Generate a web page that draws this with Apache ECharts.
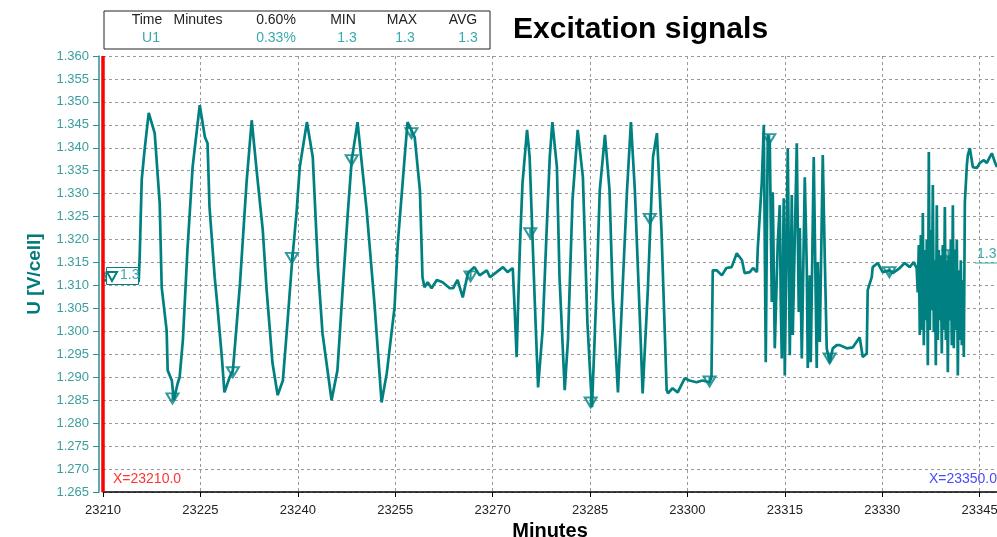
<!DOCTYPE html>
<html>
<head>
<meta charset="utf-8">
<script src="https://cdn.jsdelivr.net/npm/echarts@6/dist/echarts.min.js"></script>
<style>
html,body{margin:0;padding:0;background:#fff;}
#chart{width:997px;height:537px;}
</style>
</head>
<body>
<div id="chart"></div>
<script>
// ---- data ----
const minutes = [
23210.1,23211.8,23213.8,23215.5,23215.65,23215.96,23216.4,23217.04,23217.96,23218.73,
23219.04,23219.8,23219.96,23220.6,23220.9,23221.5,23221.8,23222.3,23223.0,23223.8,
23224.4,23224.9,23225.7,23226.1,23226.4,23227.2,23227.5,23228.3,23228.7,23229.5,
23230.0,23230.3,23231.1,23232.1,23232.9,23233.7,23234.6,23235.2,23236.1,23236.9,
23237.7,23238.4,23239.1,23239.8,23240.3,23241.4,23242.3,23243.1,23243.8,23245.2,
23246.1,23246.9,23247.7,23248.3,23249.2,23249.8,23250.6,23251.8,23252.9,23253.7,
23254.9,23255.4,23256.5,23256.9,23258.0,23258.8,23259.2,23259.5,23260.0,23260.6,
23261.4,23262.3,23263.4,23263.9,23264.6,23265.4,23266.2,23267.2,23268.0,23269.1,
23269.6,23270.6,23271.6,23272.3,23273.1,23273.4,23273.7,23273.9,23274.2,23274.6,
23275.3,23275.7,23276.5,23277.0,23277.7,23278.3,23278.8,23279.2,23279.9,23280.3,
23281.1,23281.6,23282.3,23283.1,23283.9,23284.6,23285.3,23286.0,23286.5,23287.3,
23288.0,23288.5,23289.3,23290.0,23290.7,23291.3,23291.9,23292.7,23293.1,23293.9,
23294.7,23295.3,23296.0,23296.8,23297.0,23297.7,23298.5,23299.6,23300.3,23301.4,
23302.3,23303.4,23303.7,23303.9,23304.5,23305.3,23306.0,23306.8,23307.6,23308.4,
23308.8,23309.6,23310.1,23310.7,
23310.83,23311.14,23311.45,23311.76,23312.06,23312.37,23312.68,23312.99,23313.14,23313.45,
23313.91,23314.22,23314.37,23314.53,23314.83,23314.99,23315.45,23315.76,23316.07,23316.22,
23316.84,23317.14,23317.30,23317.61,23318.07,23318.38,23318.53,23318.84,23318.99,23319.45,
23319.91,23320.07,23320.38,23320.84,23321.15,23321.45,23321.91,23322.38,23322.99,23323.45,
23324.53,23325.45,23326.53,23326.99,23327.61,23327.76,23328.38,23328.53,23329.30,23330.07,
23331.15,23331.61,23332.69,23333.46,23334.23,23334.84,23335.30,23335.46,
23335.63,23335.78,23335.94,23336.09,23336.25,23336.40,23336.55,23336.71,23336.86,23337.02,
23337.17,23337.33,23337.48,23337.63,23337.79,23337.94,23338.10,23338.25,23338.40,23338.56,
23338.71,23338.87,23339.02,23339.17,23339.33,23339.48,23339.64,23339.79,23339.94,23340.10,
23340.25,23340.41,23340.56,23340.71,23340.87,23341.02,23341.18,23341.33,23341.48,23341.64,
23341.79,23341.95,23342.10,23342.25,23342.41,23342.56,23342.72,23343.03,23343.18,23343.49,
23343.95,23344.57,23345.03,23345.65,23346.11,23346.57,23346.88,23347.34,23347.65
];
const volts = [
1.3112,1.3107,1.3105,1.3109,1.3162,1.3330,1.3395,1.3476,1.3432,1.3279,
1.3096,1.3002,1.2915,1.2893,1.2850,1.2887,1.2900,1.2981,1.3177,1.3358,
1.3432,1.3493,1.3423,1.3410,1.3271,1.3118,1.3074,1.2944,1.2867,1.2900,
1.2915,1.2965,1.3105,1.3323,1.3460,1.3345,1.3221,1.3090,1.2931,1.2861,
1.2893,1.3018,1.3149,1.3258,1.3358,1.3456,1.3380,1.3140,1.2996,1.2850,
1.2915,1.3090,1.3258,1.3373,1.3456,1.3373,1.3264,1.3061,1.2845,1.2909,
1.3053,1.3192,1.3388,1.3456,1.3423,1.3308,1.3118,1.3096,1.3107,1.3094,
1.3112,1.3107,1.3094,1.3094,1.3112,1.3074,1.3127,1.3140,1.3122,1.3133,
1.3118,1.3129,1.3140,1.3129,1.3138,1.3046,1.2944,1.3046,1.3184,1.3323,
1.3439,1.3380,1.3061,1.2878,1.3003,1.3214,1.3380,1.3456,1.3358,1.3118,
1.2872,1.2981,1.3286,1.3439,1.3336,1.3018,1.2835,1.3090,1.3308,1.3428,
1.3308,1.3074,1.2867,1.3090,1.3308,1.3456,1.3308,1.3018,1.2865,1.3090,
1.3380,1.3432,1.3221,1.2872,1.2865,1.2876,1.2867,1.2898,1.2893,1.2889,
1.2893,1.2889,1.2900,1.3133,1.3133,1.3122,1.3138,1.3140,1.3170,1.3155,
1.3127,1.3129,1.3138,1.3129,
1.3181,1.3253,1.3325,1.3450,1.2933,1.3428,1.3412,1.3064,1.3303,1.2963,
1.3194,1.3275,1.3064,1.2941,1.3290,1.2904,1.3399,1.2948,1.3297,1.2992,
1.3410,1.3042,1.3225,1.2941,1.3336,1.3138,1.2920,1.3122,1.2933,1.3380,
1.2920,1.3151,1.2977,1.3384,1.3160,1.2963,1.2931,1.2963,1.2970,1.2970,
1.2963,1.2965,1.2987,1.2944,1.2952,1.3090,1.3118,1.3140,1.3149,1.3129,
1.3133,1.3127,1.3138,1.3149,1.3140,1.3151,1.3138,1.3085,
1.3188,1.2992,1.3210,1.3003,1.3258,1.2970,1.3177,1.3024,1.3199,1.2926,
1.3391,1.3003,1.3221,1.3046,1.3319,1.2998,1.3155,1.2926,1.3275,1.2981,
1.3177,1.3024,1.3166,1.2952,1.3188,1.3003,1.3271,1.2981,1.3155,1.2911,
1.3166,1.3024,1.3199,1.2970,1.3275,1.2963,1.3177,1.3003,1.3199,1.2904,
1.3133,1.2981,1.3155,1.2970,1.3112,1.2944,1.3282,1.3362,1.3384,1.3399,
1.3358,1.3356,1.3367,1.3373,1.3367,1.3380,1.3388,1.3369,1.3358
];
const markerMinutes = [23211.0,23220.7,23230.0,23239.1,23248.3,23257.5,23266.6,23275.8,23285.1,23294.2,23303.4,23312.6,23321.9,23331.1,23340.2];
const markerVolts   = [1.3116,1.2854,1.2911,1.3160,1.3373,1.3432,1.3120,1.3214,1.2845,1.3245,1.2891,1.3419,1.2941,1.3129,1.3166];
const cursorLeft = 23210.0;
const cursorRight = 23350.0;
const xMin = 23210, xMax = 23347.67, xStep = 15;
const yMin = 1.265, yMax = 1.360, yStep = 0.005;
const legendHeader = ['Time', 'Minutes', '0.60%', 'MIN', 'MAX', 'AVG'];
const legendRow = ['U1', '', '0.33%', '1.3', '1.3', '1.3'];

// ---- chart ----
const TEAL = '#008080';
const LIGHT = '#3aa9a9';
const FONT = '"Liberation Sans", Arial, sans-serif';
const chart = echarts.init(document.getElementById('chart'), null, {renderer: 'canvas'});

const lineData = minutes.map((m, i) => [m, volts[i]]);
const markData = markerMinutes.map((m, i) => [m, markerVolts[i]]);

const hdrX = [147, 198, 276, 343, 402, 463];
const rowX = [151, 0, 276, 347, 405, 468];
const legendGraphics = [
  {type: 'rect', left: 103.5, top: 10.5, shape: {width: 386, height: 38}, style: {fill: '#fff', stroke: '#222', lineWidth: 1}}
];
legendHeader.forEach((t, i) => legendGraphics.push({type: 'text', x: hdrX[i], y: 20, style: {text: t, fill: '#222', font: '14px ' + FONT, textAlign: 'center', textVerticalAlign: 'middle'}}));
legendRow.forEach((t, i) => { if (t) legendGraphics.push({type: 'text', x: rowX[i], y: 38, style: {text: t, fill: LIGHT, font: '14px ' + FONT, textAlign: 'center', textVerticalAlign: 'middle'}}); });

const option = {
  animation: false,
  backgroundColor: '#fff',
  textStyle: {fontFamily: FONT},
  title: {
    text: 'Excitation signals', left: 508, top: 10,
    textStyle: {fontSize: 30, fontWeight: 'bold', color: '#000', fontFamily: FONT}
  },
  grid: {left: 103, right: 0, top: 56, bottom: 45, containLabel: false, outerBoundsMode: 'none'},
  xAxis: {
    type: 'value', min: xMin, max: xMax, interval: xStep,
    name: 'Minutes', nameLocation: 'middle', nameGap: 24,
    nameTextStyle: {fontSize: 20, fontWeight: 'bold', color: '#000', fontFamily: FONT},
    axisLine: {show: true, onZero: false, lineStyle: {color: '#000', width: 1.5}},
    axisTick: {show: true, length: 5, lineStyle: {color: '#000'}},
    axisLabel: {color: '#222', fontSize: 13, margin: 12, showMaxLabel: false, hideOverlap: false, formatter: v => String(Math.round(v))},
    splitLine: {show: true, lineStyle: {color: '#999', type: [3, 3], width: 1}}
  },
  yAxis: {
    type: 'value', min: yMin, max: yMax, interval: yStep, offset: 4,
    name: 'U [V/cell]', nameLocation: 'middle', nameGap: 55, nameRotate: 90,
    nameTextStyle: {fontSize: 19, fontWeight: 'bold', color: '#007a7a', fontFamily: FONT},
    axisLine: {show: true, lineStyle: {color: '#2a9090', width: 1.5}},
    axisTick: {show: true, length: 6, lineStyle: {color: '#2a9090'}},
    axisLabel: {color: '#3a9e9e', fontSize: 13, margin: 10, formatter: v => v.toFixed(3)},
    splitLine: {show: true, lineStyle: {color: '#999', type: [3, 3], width: 1}}
  },
  series: [
    {
      type: 'line', data: lineData, showSymbol: false, clip: false,
      lineStyle: {color: TEAL, width: 2.7}, itemStyle: {color: TEAL},
      markLine: {
        silent: true, symbol: 'none', label: {show: false},
        lineStyle: {color: '#ff0000', width: 3.5, type: 'solid'},
        data: [{xAxis: cursorLeft}]
      },
      z: 3
    },
    {
      type: 'scatter', data: markData,
      symbol: 'path://M0,0L20,0L10,18Z M10,0L10,18', symbolSize: [12, 10],
      itemStyle: {color: 'rgba(255,255,255,0)', borderColor: TEAL, borderWidth: 2},
      z: 4
    }
  ],
  graphic: legendGraphics.concat([
    {type: 'text', left: 113, top: 472, style: {text: 'X=' + cursorLeft.toFixed(1), fill: '#ff3333', font: '14px ' + FONT}},
    {type: 'text', right: 0, top: 472, style: {text: 'X=' + cursorRight.toFixed(1), fill: '#4a4aff', font: '14px ' + FONT}},
    {type: 'rect', left: 106, top: 267, shape: {width: 32, height: 17}, style: {fill: '#fff', stroke: TEAL, lineWidth: 1}, z: 10},
    {type: 'text', left: 120, top: 268, style: {text: '1.3', fill: LIGHT, font: '14px ' + FONT}, z: 11},
    {type: 'polygon', shape: {points: [[107, 272], [117, 272], [112, 281]]}, style: {fill: '#fff', stroke: TEAL, lineWidth: 2}, z: 11},
    {type: 'text', left: 977, top: 247, style: {text: '1.3', fill: LIGHT, font: '14px ' + FONT}, z: 11},
    {type: 'line', shape: {x1: 975, y1: 263, x2: 997, y2: 263}, style: {stroke: LIGHT, lineWidth: 1}, z: 11}
  ])
};
chart.setOption(option);
</script>
</body>
</html>
